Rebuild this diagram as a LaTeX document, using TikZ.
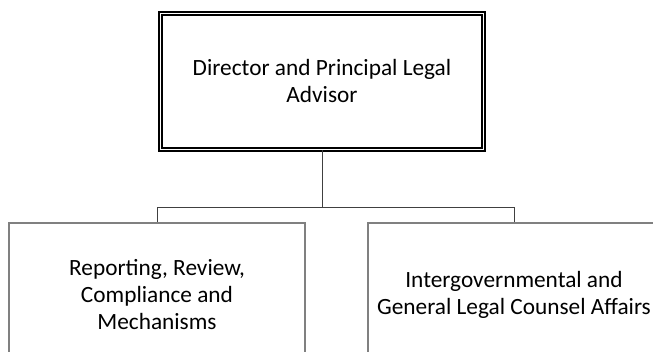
\documentclass[tikz,border=0pt]{standalone}
\usepackage{fontspec}
\setmainfont{Carlito}
\usepackage{tikz}
\usetikzlibrary{positioning}

\definecolor{boxgray}{HTML}{808080}
\definecolor{linegray}{HTML}{404040}

\begin{document}
\begin{tikzpicture}[
  x=1pt, y=1pt,
  font=\fontsize{23.3}{27}\selectfont,
  head/.style={draw=black, double, line width=1.3pt, double distance=1.6pt, align=center, minimum width=323pt, minimum height=136pt, inner sep=0pt},
  unit/.style={draw=boxgray, line width=1.3pt, align=center, minimum height=144pt, inner sep=0pt},
  link/.style={draw=linegray, line width=1pt}
]
  \useasboundingbox (0,0) rectangle (653,352);
  \clip (0,0) rectangle (653,352);

  \node[head] (director) at (322,270.5) {Director and Principal Legal\\Advisor};
  \node[unit, minimum width=296pt] (reporting) at (157,57) {Reporting, Review,\\Compliance and\\Mechanisms};
  \node[unit, minimum width=292pt] (intergov) at (514,57) {Intergovernmental and\\General Legal Counsel Affairs};

  \coordinate (bus) at (322,144);
  \draw[link] (director.south) -- (bus);
  \draw[link] (bus) -| (reporting.north);
  \draw[link] (bus) -| (intergov.north);
\end{tikzpicture}
\end{document}
